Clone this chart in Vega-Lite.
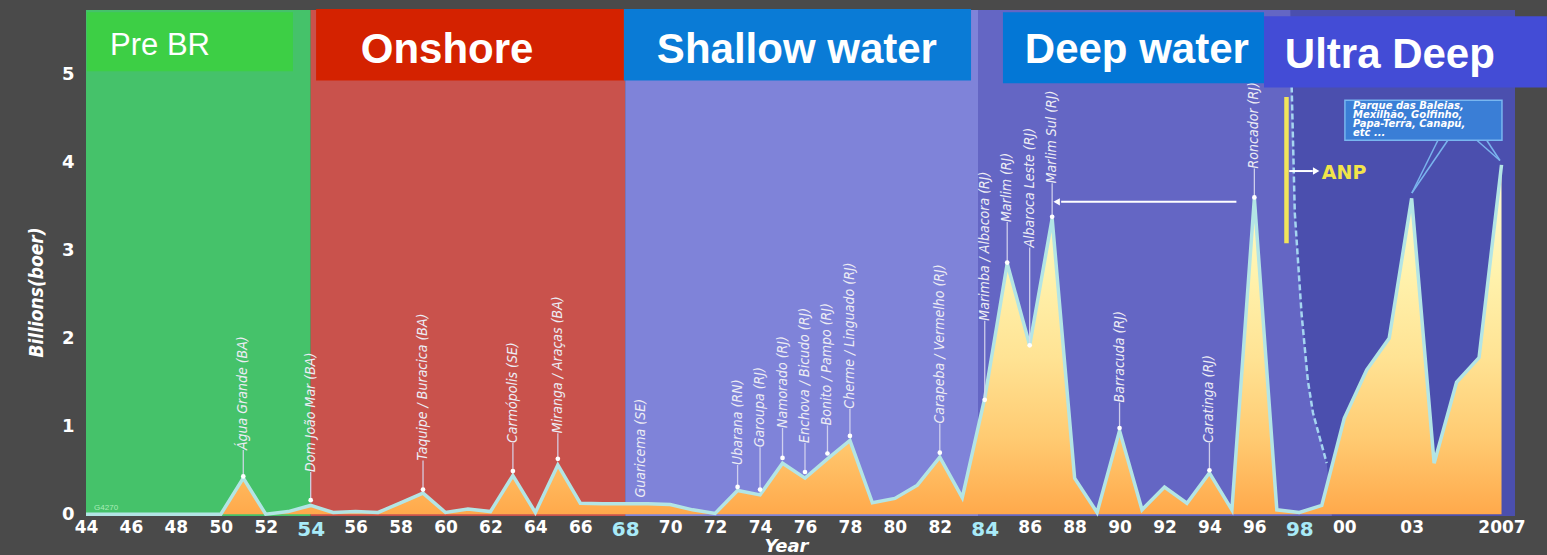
{
  "$schema": "https://vega.github.io/schema/vega-lite/v6.json",
  "width": 1429,
  "height": 506,
  "autosize": {"type": "none"},
  "padding": {"left": 86, "top": 10, "right": 32, "bottom": 39},
  "background": "#4a4a4a",
  "view": {"stroke": null},
  "datasets": {
    "regions": [
      {"x": 1944, "x2": 1954, "y": -0.02, "y2": 5.73, "r": "rpre"},
      {"x": 1954, "x2": 1968, "y": -0.02, "y2": 5.73, "r": "ron"},
      {"x": 1968, "x2": 1983.7, "y": -0.02, "y2": 5.73, "r": "rsh"},
      {"x": 1983.7, "x2": 2007.6, "y": -0.02, "y2": 5.73, "r": "rdp"}
    ],
    "ubound": [
      {"x": 1997.6, "y": 5.73},
      {"x": 1997.66, "y": 4.86},
      {"x": 1997.8, "y": 3.42},
      {"x": 1998.1, "y": 2.28},
      {"x": 1998.38, "y": 1.52},
      {"x": 1998.61, "y": 1.15},
      {"x": 1999.22, "y": 0.58},
      {"x": 1999.45, "y": -0.02}
    ],
    "curve": [
      {"x": 1997.66, "y": 4.86},
      {"x": 1997.8, "y": 3.42},
      {"x": 1998.1, "y": 2.28},
      {"x": 1998.38, "y": 1.52},
      {"x": 1998.61, "y": 1.15},
      {"x": 1999.22, "y": 0.58}
    ],
    "prod": [
      {"x": 1944, "y": 0}, {"x": 1945, "y": 0}, {"x": 1946, "y": 0}, {"x": 1947, "y": 0},
      {"x": 1948, "y": 0}, {"x": 1949, "y": 0}, {"x": 1950, "y": 0}, {"x": 1951, "y": 0.41},
      {"x": 1952, "y": 0}, {"x": 1953, "y": 0.03}, {"x": 1954, "y": 0.1}, {"x": 1955, "y": 0.02},
      {"x": 1956, "y": 0.03}, {"x": 1957, "y": 0.02}, {"x": 1958, "y": 0.13}, {"x": 1959, "y": 0.24},
      {"x": 1960, "y": 0.02}, {"x": 1961, "y": 0.06}, {"x": 1962, "y": 0.03}, {"x": 1963, "y": 0.44},
      {"x": 1964, "y": 0.02}, {"x": 1965, "y": 0.56}, {"x": 1966, "y": 0.125}, {"x": 1967, "y": 0.12},
      {"x": 1968, "y": 0.12}, {"x": 1969, "y": 0.12}, {"x": 1970, "y": 0.11}, {"x": 1971, "y": 0.05},
      {"x": 1972, "y": 0.01}, {"x": 1973, "y": 0.27}, {"x": 1974, "y": 0.22}, {"x": 1975, "y": 0.58},
      {"x": 1976, "y": 0.41}, {"x": 1977, "y": 0.63}, {"x": 1978, "y": 0.84}, {"x": 1979, "y": 0.13},
      {"x": 1980, "y": 0.18}, {"x": 1981, "y": 0.33}, {"x": 1982, "y": 0.65}, {"x": 1983, "y": 0.19},
      {"x": 1984, "y": 1.32}, {"x": 1985, "y": 2.85}, {"x": 1986, "y": 1.92}, {"x": 1987, "y": 3.36},
      {"x": 1988, "y": 0.41}, {"x": 1989, "y": 0.02}, {"x": 1990, "y": 0.95}, {"x": 1991, "y": 0.05},
      {"x": 1992, "y": 0.31}, {"x": 1993, "y": 0.125}, {"x": 1994, "y": 0.47}, {"x": 1995, "y": 0.05},
      {"x": 1996, "y": 3.59}, {"x": 1997, "y": 0.05}, {"x": 1998, "y": 0.02}, {"x": 1999, "y": 0.1},
      {"x": 2000, "y": 1.09}, {"x": 2001, "y": 1.64}, {"x": 2002, "y": 2.0}, {"x": 2003, "y": 3.59},
      {"x": 2004, "y": 0.58}, {"x": 2005, "y": 1.5}, {"x": 2006, "y": 1.78}, {"x": 2007, "y": 3.97}
    ],
    "fields": [
      {"name": "Água Grande (BA)", "x": 1951, "d": 0.43, "t": 0.73},
      {"name": "Dom João Mar (BA)", "x": 1954, "d": 0.16, "t": 0.48},
      {"name": "Taquipe / Buracica (BA)", "x": 1959, "d": 0.28, "t": 0.61},
      {"name": "Carmópolis (SE)", "x": 1963, "d": 0.49, "t": 0.81},
      {"name": "Miranga / Araças (BA)", "x": 1965, "d": 0.63, "t": 0.92},
      {"name": "Guaricema (SE)", "x": 1968.7, "d": null, "t": 0.19},
      {"name": "Ubarana (RN)", "x": 1973, "d": 0.31, "t": 0.56},
      {"name": "Garoupa (RJ)", "x": 1974, "d": 0.28, "t": 0.76},
      {"name": "Namorado (RJ)", "x": 1975, "d": 0.64, "t": 0.98},
      {"name": "Enchova / Bicudo (RJ)", "x": 1976, "d": 0.48, "t": 0.81},
      {"name": "Bonito / Pampo (RJ)", "x": 1977, "d": 0.69, "t": 1.01},
      {"name": "Cherme / Linguado (RJ)", "x": 1978, "d": 0.89, "t": 1.2},
      {"name": "Carapeba / Vermelho (RJ)", "x": 1982, "d": 0.7, "t": 1.03},
      {"name": "Marimba / Albacora (RJ)", "x": 1984, "d": 1.3, "t": 2.2},
      {"name": "Marlim (RJ)", "x": 1985, "d": 2.86, "t": 3.32},
      {"name": "Albaroca Leste (RJ)", "x": 1986, "d": 1.92, "t": 3.03},
      {"name": "Marlim Sul (RJ)", "x": 1987, "d": 3.38, "t": 3.76},
      {"name": "Barracuda (RJ)", "x": 1990, "d": 0.98, "t": 1.27},
      {"name": "Caratinga (RJ)", "x": 1994, "d": 0.5, "t": 0.81},
      {"name": "Roncador (RJ)", "x": 1996, "d": 3.6, "t": 3.93}
    ],
    "boxes": [
      {"x": 1944.04, "x2": 1953.21, "y": 5.034, "y2": 5.705, "r": "pre"},
      {"x": 1954.24, "x2": 1967.94, "y": 4.93, "y2": 5.74, "r": "on"},
      {"x": 1967.94, "x2": 1983.39, "y": 4.93, "y2": 5.74, "r": "sh"},
      {"x": 1984.81, "x2": 1996.43, "y": 4.898, "y2": 5.705, "r": "dp"},
      {"x": 1996.43, "x2": 2009.02, "y": 4.85, "y2": 5.66, "r": "ud"}
    ],
    "boxtext": [
      {"x": 1960.07, "y": 5.125, "t": "Onshore"},
      {"x": 1975.64, "y": 5.125, "t": "Shallow water"},
      {"x": 1990.77, "y": 5.125, "t": "Deep water"},
      {"x": 2002.03, "y": 5.068, "t": "Ultra Deep"}
    ]
  },
  "encoding": {
    "x": {
      "field": "x",
      "type": "quantitative",
      "scale": {"domain": [1944, 2007.6], "nice": false, "zero": false},
      "axis": {
        "title": "Year",
        "values": [1944, 1946, 1948, 1950, 1952, 1954, 1956, 1958, 1960, 1962, 1964, 1966, 1968, 1970, 1972, 1974, 1976, 1978, 1980, 1982, 1984, 1986, 1988, 1990, 1992, 1994, 1996, 1998, 2000, 2003, 2007],
        "labelExpr": "datum.value == 2007 ? '2007' : (datum.value % 100 < 10 ? '0' + (datum.value % 100) : '' + (datum.value % 100))",
        "grid": false,
        "ticks": false,
        "domain": false,
        "labelFont": "DejaVu Sans",
        "labelFontWeight": "bold",
        "labelFontSize": {"condition": {"test": "datum.value == 1954 || datum.value == 1968 || datum.value == 1984 || datum.value == 1998", "value": 20}, "value": 17},
        "labelColor": {"condition": {"test": "datum.value == 1954 || datum.value == 1968 || datum.value == 1984 || datum.value == 1998", "value": "#a8eaf8"}, "value": "#ffffff"},
        "labelPadding": 3,
        "labelBaseline": "top",
        "labelOverlap": false,
        "labelFlush": false,
        "encoding": {"labels": {"update": {"dx": {"signal": "datum.value == 1944 ? 4 : (datum.value < 1970 ? 0 : max(-20, (1970 - datum.value) * 0.72))"}}}},
        "titleFont": "DejaVu Sans",
        "titleFontWeight": "bold",
        "titleFontStyle": "italic",
        "titleFontSize": 18,
        "titleColor": "#ffffff",
        "titleX": 700,
        "titleY": 35,
        "titleBaseline": "alphabetic",
        "titleAlign": "center"
      }
    },
    "y": {
      "field": "y",
      "type": "quantitative",
      "scale": {"domain": [-0.02, 5.73], "nice": false, "zero": false},
      "axis": {
        "title": "Billions(boer)",
        "values": [0, 1, 2, 3, 4, 5],
        "grid": false,
        "ticks": false,
        "domain": false,
        "labelFont": "DejaVu Sans",
        "labelFontWeight": "bold",
        "labelFontSize": 18,
        "labelColor": "#ffffff",
        "labelPadding": 12,
        "titleFont": "Liberation Sans Narrow, DejaVu Sans Condensed, sans-serif",
        "titleFontSize": 19,
        "titleFontWeight": "bold",
        "titleFontStyle": "italic",
        "titleColor": "#ffffff",
        "titleX": -50,
        "titleY": 282,
        "titleAngle": 270,
        "titleBaseline": "middle",
        "titleAlign": "center"
      }
    }
  },
  "layer": [
    {
      "data": {"name": "regions"},
      "mark": {"type": "rect", "opacity": 1},
      "encoding": {
        "x2": {"field": "x2"},
        "y2": {"field": "y2"},
        "fill": {"field": "r", "type": "nominal", "scale": {"domain": ["rpre", "ron", "rsh", "rdp", "pre", "on", "sh", "dp", "ud"], "range": ["#45c26a", "#c9524c", "#7f83d9", "#6466c4", "#3dcf45", "#d42200", "#0a7bd6", "#0377d6", "#434cd6"]}, "legend": null}
      }
    },
    {
      "data": {"name": "ubound"},
      "mark": {"type": "area", "orient": "horizontal", "color": "#4b4fae", "opacity": 1},
      "encoding": {"x2": {"datum": 2007.6}}
    },
    {
      "data": {"values": [{"x": 1968}, {"x": 1983.7}]},
      "mark": {"type": "rule", "color": "#5e7e8a", "strokeWidth": 1.5},
      "encoding": {"y": {"datum": 0}, "y2": {"datum": 5.73}}
    },
    {
      "data": {"values": [{"y": 1}, {"y": 2}, {"y": 3}, {"y": 4}]},
      "mark": {"type": "rule", "color": "#ffffff", "opacity": 0.28, "strokeWidth": 1},
      "encoding": {"x": {"datum": 1944}, "x2": {"datum": 2007.6}}
    },
    {
      "data": {"values": [{"y": 5}]},
      "mark": {"type": "rule", "color": "#444444", "strokeWidth": 2.5},
      "encoding": {"x": {"datum": 1944}, "x2": {"datum": 2007.6}}
    },
    {
      "data": {"name": "prod"},
      "mark": {
        "type": "area",
        "opacity": 1,
        "fillOpacity": 1,
        "color": {"gradient": "linear", "x1": 0, "y1": 0, "x2": 0, "y2": 1, "stops": [
          {"offset": 0, "color": "#fffbd6"},
          {"offset": 0.3, "color": "#fff3ae"},
          {"offset": 0.55, "color": "#ffe394"},
          {"offset": 0.78, "color": "#ffcb72"},
          {"offset": 1, "color": "#ffa94b"}
        ]},
        "line": {"color": "#b3e5e5", "strokeWidth": 3.5, "opacity": 1}
      }
    },
    {
      "data": {"name": "fields"},
      "transform": [{"filter": "isValid(datum.d)"}],
      "mark": {"type": "rule", "color": "#d8d8f0", "strokeWidth": 1.3, "opacity": 0.9},
      "encoding": {"y": {"field": "d", "type": "quantitative"}, "y2": {"field": "t"}}
    },
    {
      "data": {"name": "fields"},
      "transform": [{"filter": "isValid(datum.d)"}],
      "mark": {"type": "point", "filled": true, "color": "#ffffff", "opacity": 1, "size": 22},
      "encoding": {"y": {"field": "d", "type": "quantitative"}}
    },
    {
      "data": {"name": "fields"},
      "mark": {"type": "text", "angle": 270, "align": "left", "baseline": "middle", "font": "Liberation Sans Narrow, DejaVu Sans Condensed, sans-serif", "fontStyle": "italic", "fontSize": 14, "color": "#ececf4"},
      "encoding": {"y": {"field": "t", "type": "quantitative"}, "text": {"field": "name"}}
    },
    {
      "data": {"name": "curve"},
      "mark": {"type": "line", "color": "#a5d5f0", "strokeWidth": 2.5, "strokeDash": [6, 3]}
    },
    {
      "data": {"values": [{"x": 1997.43, "y": 4.74, "y2": 3.08}]},
      "mark": {"type": "rule", "color": "#f2e45a", "strokeWidth": 4.5},
      "encoding": {"y2": {"field": "y2"}}
    },
    {
      "data": {"values": [{"x": 1997.55, "x2": 1998.6, "y": 3.9}, {"x": 1995.2, "x2": 1987.4, "y": 3.55}]},
      "mark": {"type": "rule", "color": "#ffffff", "strokeWidth": 2},
      "encoding": {"x2": {"field": "x2"}}
    },
    {
      "data": {"values": [{"x": 1998.75, "y": 3.9, "s": "right"}, {"x": 1987.2, "y": 3.55, "s": "left"}]},
      "mark": {"type": "point", "filled": true, "color": "#ffffff", "opacity": 1, "size": 55},
      "encoding": {"shape": {"field": "s", "type": "nominal", "scale": {"domain": ["left", "right"], "range": ["triangle-left", "triangle-right"]}, "legend": null}}
    },
    {
      "data": {"values": [{"x": 1999.0, "y": 3.88, "t": "ANP"}]},
      "mark": {"type": "text", "align": "left", "baseline": "middle", "font": "DejaVu Sans", "fontWeight": "bold", "fontSize": 19, "color": "#f2e44a"},
      "encoding": {"text": {"field": "t"}}
    },
    {
      "data": {"values": [
        {"x": 2004.17, "y": 4.25, "x2": 2003.01, "y2": 3.65},
        {"x": 2004.61, "y": 4.25, "x2": 2003.01, "y2": 3.65},
        {"x": 2005.9, "y": 4.25, "x2": 2006.93, "y2": 4.02},
        {"x": 2006.34, "y": 4.25, "x2": 2006.93, "y2": 4.02}
      ]},
      "mark": {"type": "rule", "color": "#7ab4ee", "strokeWidth": 1.5},
      "encoding": {"x2": {"field": "x2"}, "y2": {"field": "y2"}}
    },
    {
      "data": {"values": [{"x": 2000.03, "x2": 2007.02, "y": 4.25, "y2": 4.705}]},
      "mark": {"type": "rect", "color": "#3a7ed6", "stroke": "#78b6f0", "strokeWidth": 1.5, "opacity": 1},
      "encoding": {"x2": {"field": "x2"}, "y2": {"field": "y2"}}
    },
    {
      "data": {"values": [{"x": 2000.39, "y": 4.6, "t": "Parque das Baleias,\nMexilhão, Golfinho,\nPapa-Terra, Canapu,\netc ..."}]},
      "mark": {"type": "text", "align": "left", "baseline": "alphabetic", "lineBreak": "\n", "lineHeight": 9, "font": "DejaVu Sans", "fontWeight": "bold", "fontStyle": "italic", "fontSize": 10, "color": "#ffffff"},
      "encoding": {"text": {"field": "t"}}
    },
    {
      "data": {"name": "boxes"},
      "mark": {"type": "rect", "opacity": 1},
      "encoding": {
        "x2": {"field": "x2"},
        "y2": {"field": "y2"},
        "fill": {"field": "r", "type": "nominal", "scale": {"domain": ["rpre", "ron", "rsh", "rdp", "pre", "on", "sh", "dp", "ud"], "range": ["#45c26a", "#c9524c", "#7f83d9", "#6466c4", "#3dcf45", "#d42200", "#0a7bd6", "#0377d6", "#434cd6"]}, "legend": null}
      }
    },
    {
      "data": {"name": "boxtext"},
      "mark": {"type": "text", "align": "center", "baseline": "alphabetic", "font": "Liberation Sans", "fontWeight": "bold", "fontSize": 42, "color": "#ffffff"},
      "encoding": {"text": {"field": "t"}}
    },
    {
      "data": {"values": [{"x": 1945.07, "y": 5.216, "t": "Pre BR"}]},
      "mark": {"type": "text", "align": "left", "baseline": "alphabetic", "font": "Liberation Sans", "fontSize": 31, "color": "#ffffff"},
      "encoding": {"text": {"field": "t"}}
    },
    {
      "data": {"values": [{"x": 1944}]},
      "mark": {"type": "rule", "color": "#f6f07a", "strokeWidth": 5},
      "encoding": {"y": {"datum": -0.02}, "y2": {"datum": 5.72}}
    },
    {
      "data": {"values": [{"y": 0}]},
      "mark": {"type": "rule", "color": "#f6f07a", "strokeWidth": 4},
      "encoding": {"x": {"datum": 1944}, "x2": {"datum": 2007.15}}
    },
    {
      "data": {"values": [{"x": 1944.36, "y": 0.045, "t": "G4270"}]},
      "mark": {"type": "text", "align": "left", "baseline": "alphabetic", "font": "Liberation Sans", "fontSize": 8, "color": "#a8ecb8"},
      "encoding": {"text": {"field": "t"}}
    }
  ]
}
